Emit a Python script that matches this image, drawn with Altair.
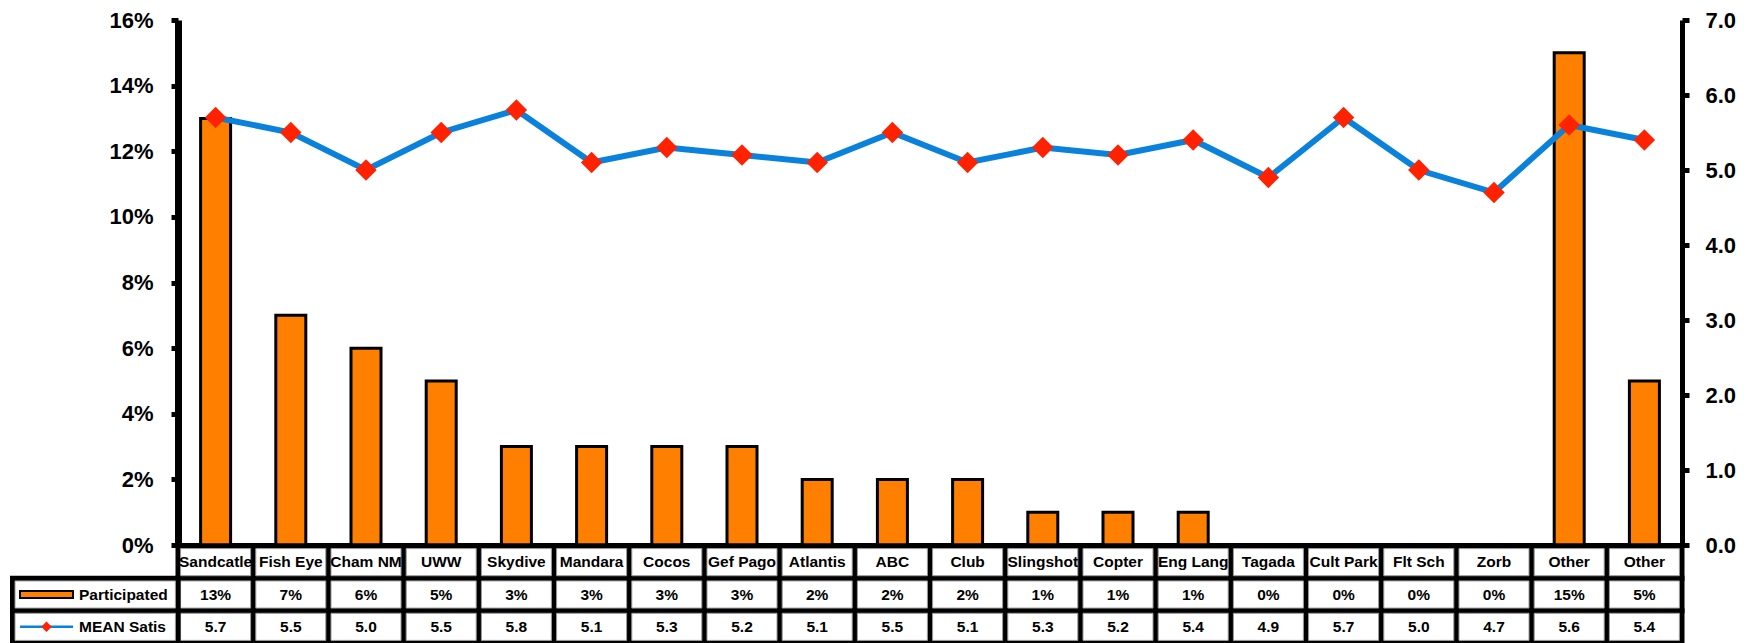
import altair as alt
import pandas as pd

# ---- data ----
categories = ["Sandcatle", "Fish Eye", "Cham NM", "UWW", "Skydive", "Mandara", "Cocos",
              "Gef Pago", "Atlantis", "ABC", "Club", "Slingshot", "Copter", "Eng Lang",
              "Tagada", "Cult Park", "Flt Sch", "Zorb", "Other", "Other"]
participated = [0.13, 0.07, 0.06, 0.05, 0.03, 0.03, 0.03, 0.03, 0.02, 0.02, 0.02,
                0.01, 0.01, 0.01, 0.0, 0.0, 0.0, 0.0, 0.15, 0.05]
mean_satis = [5.7, 5.5, 5.0, 5.5, 5.8, 5.1, 5.3, 5.2, 5.1, 5.5, 5.1, 5.3, 5.2, 5.4,
              4.9, 5.7, 5.0, 4.7, 5.6, 5.4]
series_names = ["Participated", "MEAN Satis"]
pct_ticks = [0, 0.02, 0.04, 0.06, 0.08, 0.10, 0.12, 0.14, 0.16]
satis_ticks = [0, 1, 2, 3, 4, 5, 6, 7]

FONT = "Liberation Sans"
ORANGE = "#FF8000"
BLUE = "#0A82DC"
RED = "#FF2200"
W, H = 1504, 525

main_df = pd.DataFrame({
    "idx": list(range(len(categories))),
    "cat": categories,
    "part": participated,
    "satis": mean_satis,
})

rows = []
for i, (c, p, s) in enumerate(zip(categories, participated, mean_satis)):
    rows.append({"idx": i, "row": 0, "txt": c})
    rows.append({"idx": i, "row": 1, "txt": f"{round(p * 100)}%"})
    rows.append({"idx": i, "row": 2, "txt": f"{s:.1f}"})
table_df = pd.DataFrame(rows)
table_df["row_end"] = table_df["row"] + 1
table_df["row_mid"] = table_df["row"] + 0.5

legend_df = pd.DataFrame({"row": [1, 2], "name": series_names})
legend_df["row_end"] = legend_df["row"] + 1
legend_df["row_mid"] = legend_df["row"] + 0.5

x_enc = alt.X("idx:O",
              scale=alt.Scale(paddingInner=0, paddingOuter=0),
              axis=alt.Axis(labels=False, ticks=False, title=None, domain=True,
                            domainColor="black", domainWidth=5))

row_scale = alt.Scale(domain=[0, 3], range=[H + 1, H + 98], nice=False, zero=False)
y_row = alt.Y("row:Q", scale=row_scale, axis=None)
y_row_mid = alt.Y("row_mid:Q", scale=row_scale, axis=None)

# ---- data table under the plot ----
cell_black = alt.Chart(table_df).mark_rect(color="black", stroke="black", strokeWidth=5).encode(
    x=x_enc, y=y_row, y2="row_end:Q")
cell_white = alt.Chart(table_df).mark_bar(
    fill="white", stroke="#9a9a9a", strokeWidth=1, size=70, yOffset=2.6, y2Offset=-2.6
).encode(x=x_enc, y=y_row, y2="row_end:Q")
cell_text = alt.Chart(table_df).mark_text(
    font=FONT, fontWeight="bold", fontSize=15.5, color="black", align="center", baseline="middle"
).encode(x=x_enc, y=y_row_mid, text="txt:N")

leg_black = alt.Chart(legend_df).mark_rect(color="black", stroke="black", strokeWidth=5).encode(
    x=alt.value(-165.5), x2=alt.value(0), y=y_row, y2="row_end:Q")
leg_white = alt.Chart(legend_df).mark_rect(
    fill="white", stroke="#9a9a9a", strokeWidth=1, yOffset=2.6, y2Offset=-2.6
).encode(x=alt.value(-163), x2=alt.value(-2.6), y=y_row, y2="row_end:Q")
leg_text = alt.Chart(legend_df).mark_text(
    font=FONT, fontWeight="bold", fontSize=15.5, color="black", align="left", baseline="middle"
).encode(x=alt.value(-99), y=y_row_mid, text="name:N")

leg_bar_edge = alt.Chart(legend_df).transform_filter(alt.datum.row == 1).mark_rule(
    color="black", strokeWidth=9).encode(x=alt.value(-159), x2=alt.value(-104), y=y_row_mid)
leg_bar_fill = alt.Chart(legend_df).transform_filter(alt.datum.row == 1).mark_rule(
    color=ORANGE, strokeWidth=5).encode(x=alt.value(-157), x2=alt.value(-106), y=y_row_mid)
leg_line = alt.Chart(legend_df).transform_filter(alt.datum.row == 2).mark_rule(
    color=BLUE, strokeWidth=2.5).encode(x=alt.value(-158), x2=alt.value(-105), y=y_row_mid)
leg_pt = alt.Chart(legend_df).transform_filter(alt.datum.row == 2).mark_point(
    shape="diamond", filled=True, color=RED, size=110, opacity=1).encode(
    x=alt.value(-131.5), y=y_row_mid)

# ---- main plot ----
axis_common = dict(labelFont=FONT, labelFontWeight="bold", labelFontSize=22, labelColor="black",
                   domainColor="black", tickColor="black", tickWidth=5,
                   tickSize=7, grid=False, title=None)

bars = alt.Chart(main_df).mark_bar(
    color=ORANGE, stroke="black", strokeWidth=3, size=30
).encode(
    x=x_enc,
    y=alt.Y("part:Q", scale=alt.Scale(domain=[0, 0.16], nice=False),
            axis=alt.Axis(orient="left", values=pct_ticks, format=".0%", labelPadding=18,
                          domainWidth=7, **axis_common)),
)

line = alt.Chart(main_df).mark_line(
    color=BLUE, strokeWidth=6,
    point=alt.OverlayMarkDef(shape="diamond", filled=True, color=RED, fill=RED, size=460, opacity=1),
).encode(
    x=x_enc,
    y=alt.Y("satis:Q", scale=alt.Scale(domain=[0, 7], nice=False),
            axis=alt.Axis(orient="right", values=satis_ticks, format=".1f", labelPadding=16,
                          domainWidth=5, **axis_common)),
)

chart = alt.layer(
    bars, line,
    cell_black, cell_white, cell_text,
    leg_black, leg_white, leg_text, leg_bar_edge, leg_bar_fill, leg_line, leg_pt,
).resolve_scale(y="independent").properties(
    width=W, height=H,
    autosize=alt.AutoSizeParams(type="none"),
    padding={"left": 178, "top": 20, "right": 72, "bottom": 98},
    background="white",
).configure_view(stroke=None)

chart.save("out.html", embed_options={"renderer": "svg", "actions": False})
